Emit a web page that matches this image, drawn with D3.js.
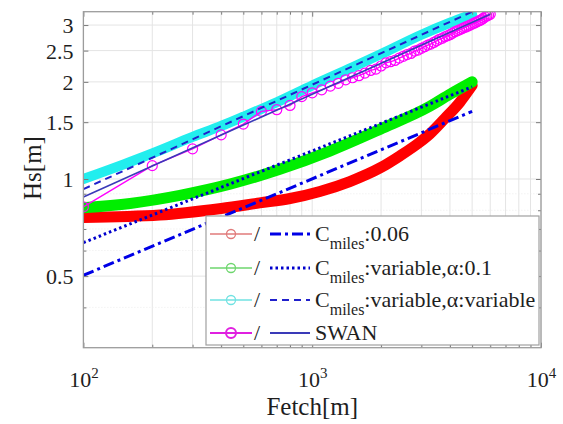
<!DOCTYPE html>
<html><head><meta charset="utf-8">
<script src="https://cdn.jsdelivr.net/npm/d3@7"></script>
<style>body{margin:0;background:#fff}svg{display:block}</style>
</head><body>
<svg id="c" width="563" height="424"></svg>
<script>
// ---------------- data ----------------
const fetchRed = [100,216,400,590,800,1080,1460,1980,2420,2950,3270,3800,4420,5000];
const hsRed    = [0.76,0.773,0.81,0.843,0.87,0.915,0.982,1.082,1.18,1.30,1.38,1.54,1.73,1.95];

const fetchGreen = [100,160,264,437,722,1194,1976,3268,4000,5000];
const hsGreen    = [0.815,0.84,0.89,0.964,1.072,1.221,1.425,1.68,1.83,2.0];

const fetchCyan = [100,150,200,300,400,500,700,1000,1500,2000,3000,4000,5000];
const hsCyan    = [1.0,1.11,1.2,1.35,1.46,1.56,1.73,1.95,2.22,2.44,2.8,3.05,3.24];

const fetchDashDot = [100,5000];  const hsDashDot = [0.503,1.62];   // Cmiles:0.06
const fetchDotted  = [100,5000];  const hsDotted  = [0.635,1.93];   // Cmiles:variable, a:0.1
const fetchDashed  = [100,5000];  const hsDashed  = [0.93,3.3];     // Cmiles:variable, a:variable
const fetchSwanFit = [100,6000];  const hsSwanFit = [0.88,3.24];    // SWAN

const fetchSwan = [100,200,300,400,500,600,700,800,900,1000,1100,1200,1300,1400,1500,1600,1700,1800,1900,2000,
  2100,2200,2300,2400,2500,2600,2700,2800,2900,3000,3100,3200,3300,3400,3500,3600,3700,3800,3900,4000,
  4100,4200,4300,4400,4500,4600,4700,4800,4900,5000,5100,5200,5300,5400,5500,5600,5700,5800,5900,6000];
const hsSwan = [0.82,1.10,1.24,1.37,1.48,1.62,1.64,1.69,1.80,1.85,1.89,1.94,1.98,2.03,2.06,2.09,2.13,2.17,2.19,2.24,
  2.29,2.31,2.33,2.37,2.40,2.43,2.45,2.49,2.51,2.54,2.57,2.60,2.62,2.65,2.68,2.71,2.73,2.76,2.78,2.80,
  2.83,2.86,2.88,2.90,2.92,2.94,2.96,2.98,3.00,3.02,3.04,3.06,3.08,3.10,3.12,3.15,3.18,3.20,3.22,3.24];

const xMajor = [100,1000,10000];
const xMinor = [200,300,400,500,600,700,800,900,2000,3000,4000,5000,6000,7000,8000,9000];
const yMajor = [0.5,1,1.5,2,2.5,3];
const yMinor = [0.4,0.6,0.7,0.8,0.9];

const legendLabels = [
  {main:"C", sub:"miles", rest:":0.06"},
  {main:"C", sub:"miles", rest:":variable,α:0.1"},
  {main:"C", sub:"miles", rest:":variable,α:variable"},
  {main:"SWAN", sub:"", rest:""}
];

// ---------------- drawing ----------------
const svg = d3.select("#c");
const L = 83.4, R = 541, T = 11.7, B = 347.7;
const x = d3.scaleLog().domain([100,10000]).range([L,R]);
const y = d3.scaleLog().domain([0.3,3.3]).range([B,T]);
const FONT = "'Liberation Serif','Times New Roman',serif";
const TXT = "#1e1e1e";

svg.append("rect").attr("x",L).attr("y",T).attr("width",R-L).attr("height",B-T).attr("fill","#fff");
svg.append("defs").append("clipPath").attr("id","clip")
  .append("rect").attr("x",L).attr("y",T).attr("width",R-L).attr("height",B-T);

// grid
const grid = svg.append("g");
grid.selectAll(".vg").data(xMinor.concat(xMajor)).join("line")
  .attr("x1",d=>x(d)).attr("x2",d=>x(d)).attr("y1",T).attr("y2",B)
  .attr("stroke","#e4e4e4").attr("stroke-width",1);
grid.selectAll(".hg").data(yMajor).join("line")
  .attr("x1",L).attr("x2",R).attr("y1",d=>y(d)).attr("y2",d=>y(d))
  .attr("stroke","#e4e4e4").attr("stroke-width",1);
grid.selectAll(".hm").data(yMinor).join("line")
  .attr("x1",L).attr("x2",R).attr("y1",d=>y(d)).attr("y2",d=>y(d))
  .attr("stroke","#ececec").attr("stroke-width",1).attr("stroke-dasharray","1,2");

const plot = svg.append("g").attr("clip-path","url(#clip)");
const line = d3.line().x(d=>x(d[0])).y(d=>y(d[1]));
const smooth = d3.line().curve(d3.curveMonotoneX).x(d=>x(d[0])).y(d=>y(d[1]));
const zip = (a,b)=>a.map((v,i)=>[v,b[i]]);

function thick(fx,hy,color,w){
  plot.append("path").datum(zip(fx,hy)).attr("d",smooth)
    .attr("fill","none").attr("stroke",color).attr("stroke-width",w)
    .attr("stroke-linecap","round").attr("stroke-linejoin","round");
}
thick(fetchRed,hsRed,"#ff0000",11);
thick(fetchGreen,hsGreen,"#00ee00",11);
thick(fetchCyan,hsCyan,"#22eeee",10);

// SWAN data
const sw = zip(fetchSwan,hsSwan);
plot.append("path").datum(sw).attr("d",line).attr("fill","none").attr("stroke","#ff00ff").attr("stroke-width",1.4);
plot.selectAll(".sw").data(sw).join("circle")
  .attr("cx",d=>x(d[0])).attr("cy",d=>y(d[1])).attr("r",5)
  .attr("fill","none").attr("stroke","#ff00ff").attr("stroke-width",1.2);

function thin(fx,hy,color,w,dash){
  const p = plot.append("path").datum(zip(fx,hy)).attr("d",line)
    .attr("fill","none").attr("stroke",color).attr("stroke-width",w);
  if(dash) p.attr("stroke-dasharray",dash);
  return p;
}
thin(fetchDashDot,hsDashDot,"#0000e6",3,"11,4,3,4");
thin(fetchDotted,hsDotted,"#0000cc",3,"2.5,3");
thin(fetchDashed,hsDashed,"#2020cc",2,"7,5");
thin(fetchSwanFit,hsSwanFit,"#3a3ab8",1.6,null);

// axes (ticks inside)
function styleAxis(g){
  g.select(".domain").remove();
  g.selectAll(".tick line").attr("stroke","#7a7a7a");
  g.selectAll("text").attr("font-family",FONT).attr("fill",TXT);
}
const gx = svg.append("g").attr("transform",`translate(0,${B})`)
  .call(d3.axisBottom(x).tickValues(xMajor).tickSizeInner(-5).tickSizeOuter(0).tickPadding(0).tickFormat(""));
styleAxis(gx);
gx.selectAll(".tick text").attr("font-size",22).attr("dy",null).attr("y",39).attr("text-anchor","middle")
  .each(function(d){
    const t = d3.select(this);
    t.append("tspan").text("10");
    t.append("tspan").attr("font-size",15).attr("dy",-9).text(String(Math.round(Math.log10(d))));
  });
svg.append("g").attr("transform",`translate(0,${B})`)
  .call(d3.axisBottom(x).tickValues(xMinor).tickSizeInner(-3).tickSizeOuter(0).tickFormat("")).call(styleAxis);
svg.append("g").attr("transform",`translate(0,${T})`)
  .call(d3.axisTop(x).tickValues(xMajor).tickSizeInner(-5).tickSizeOuter(0).tickFormat("")).call(styleAxis);
svg.append("g").attr("transform",`translate(0,${T})`)
  .call(d3.axisTop(x).tickValues(xMinor).tickSizeInner(-3).tickSizeOuter(0).tickFormat("")).call(styleAxis);

const gy = svg.append("g").attr("transform",`translate(${L},0)`)
  .call(d3.axisLeft(y).tickValues(yMajor).tickSizeInner(-5).tickSizeOuter(0).tickPadding(10).tickFormat(d3.format("")));
styleAxis(gy);
gy.selectAll(".tick text").attr("font-size",22).attr("dy","0.34em");
svg.append("g").attr("transform",`translate(${L},0)`)
  .call(d3.axisLeft(y).tickValues(yMinor).tickSizeInner(-3).tickSizeOuter(0).tickFormat("")).call(styleAxis);
svg.append("g").attr("transform",`translate(${R},0)`)
  .call(d3.axisRight(y).tickValues(yMajor).tickSizeInner(-5).tickSizeOuter(0).tickFormat("")).call(styleAxis);
svg.append("g").attr("transform",`translate(${R},0)`)
  .call(d3.axisRight(y).tickValues(yMinor).tickSizeInner(-3).tickSizeOuter(0).tickFormat("")).call(styleAxis);

// box
svg.append("rect").attr("x",L).attr("y",T).attr("width",R-L).attr("height",B-T)
  .attr("fill","none").attr("stroke","#9c9c9c").attr("stroke-width",1.3);

// axis labels
svg.append("text").attr("x",(L+R)/2).attr("y",415).attr("text-anchor","middle")
  .attr("font-family",FONT).attr("font-size",25).attr("fill",TXT).text("Fetch[m]");
svg.append("text").attr("transform","translate(41,168) rotate(-90)").attr("text-anchor","middle")
  .attr("font-family",FONT).attr("font-size",25).attr("fill",TXT).text("Hs[m]");

// legend
const lg = svg.append("g");
lg.append("rect").attr("x",206).attr("y",216).attr("width",333).attr("height",129)
  .attr("fill","#fff").attr("stroke","#a0a0a0").attr("stroke-width",1.2);
const rowsY = [234,268,300,333];
const legLeft = [
  {c:"#e07a7a", w:1.3, r:4.5},
  {c:"#6ed66e", w:1.3, r:4.5},
  {c:"#70e2e2", w:1.3, r:4.5},
  {c:"#e020e0", w:2, r:5}
];
const legRight = [
  {c:"#0000e6", w:3, dash:"11,4,3,4"},
  {c:"#0000cc", w:3, dash:"2.5,3"},
  {c:"#2020cc", w:2, dash:"7,5"},
  {c:"#3a3ab8", w:1.8, dash:null}
];
legendLabels.forEach((lab,i)=>{
  const yy = rowsY[i];
  const a = legLeft[i], b = legRight[i];
  lg.append("line").attr("x1",210).attr("x2",252).attr("y1",yy).attr("y2",yy).attr("stroke",a.c).attr("stroke-width",a.w);
  lg.append("circle").attr("cx",231).attr("cy",yy).attr("r",a.r).attr("fill","none").attr("stroke",a.c).attr("stroke-width",a.w);
  lg.append("text").attr("x",257).attr("y",yy+7).attr("text-anchor","middle").attr("font-family",FONT)
    .attr("font-size",22).attr("fill",TXT).text("/");
  const bl = lg.append("line").attr("x1",270).attr("x2",310).attr("y1",yy).attr("y2",yy).attr("stroke",b.c).attr("stroke-width",b.w);
  if(b.dash) bl.attr("stroke-dasharray",b.dash);
  const t = lg.append("text").attr("x",315).attr("y",yy+7).attr("font-family",FONT).attr("font-size",22).attr("fill",TXT);
  t.append("tspan").text(lab.main);
  if(lab.sub){
    t.append("tspan").attr("font-size",16).attr("dy",8).text(lab.sub);
    t.append("tspan").attr("dy",-8).text(lab.rest);
  }
});
</script>
</body></html>
